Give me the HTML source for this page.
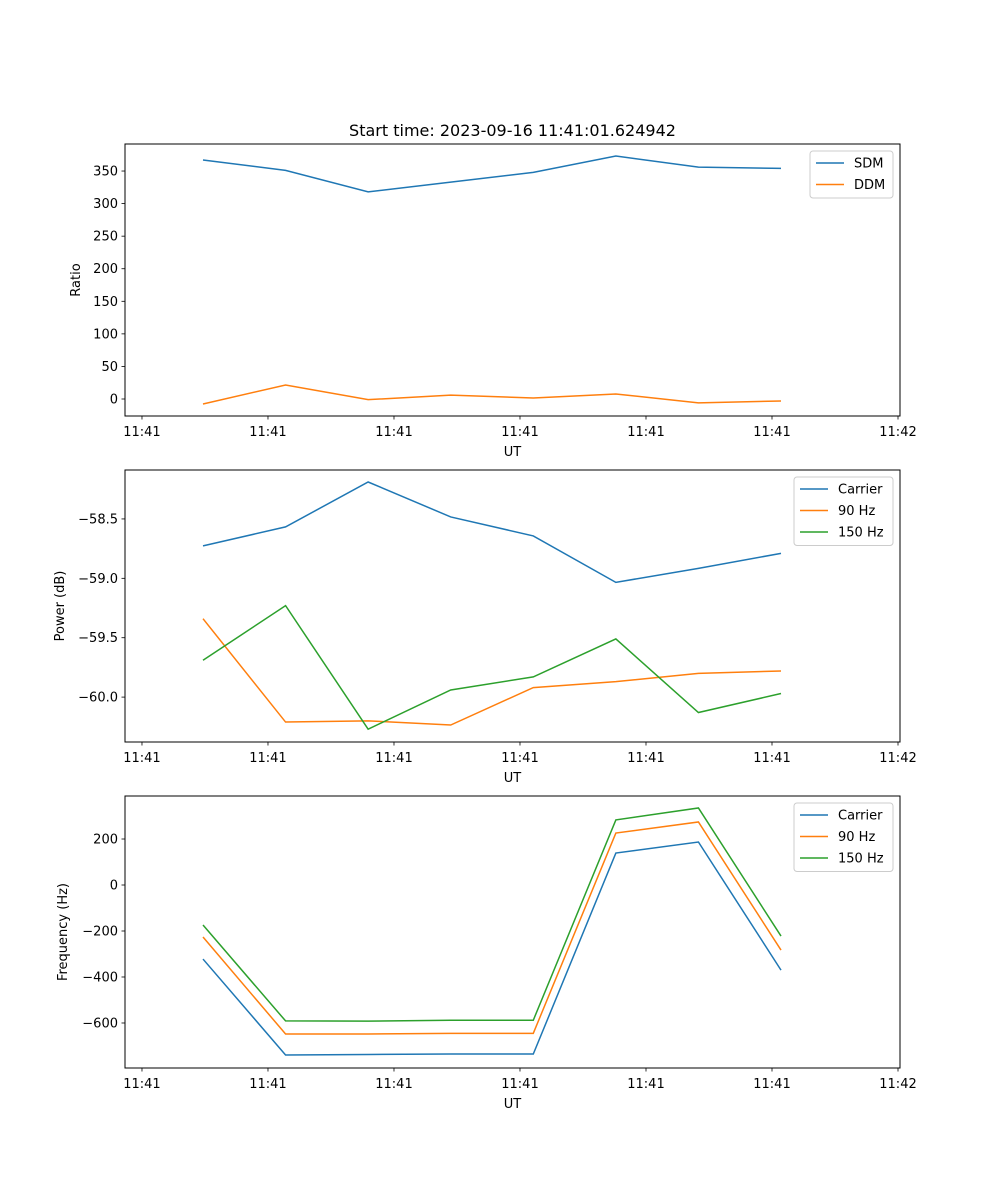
<!DOCTYPE html>
<html><head><meta charset="utf-8"><style>
html,body{margin:0;padding:0;background:#fff;}
svg{display:block;font-family:"DejaVu Sans","Liberation Sans",sans-serif;}
</style></head><body>
<svg id="chart" width="1000" height="1200" viewBox="0 0 1000 1200"></svg>
<script>
const xIndex = [0,1,2,3,4,5,6,7];
const xTickVals = [-0.739,0.787,2.313,3.839,5.365,6.891,8.417];
const xTickLabels = ["11:41","11:41","11:41","11:41","11:41","11:41","11:42"];
const sdm = [367,351,318,333,348,373,356,354];
const ddm = [-7.7,21.5,-1,6,1.5,7.7,-6,-3];
const powCarrier = [-58.727,-58.567,-58.189,-58.483,-58.643,-59.034,-58.916,-58.790];
const pow90 = [-59.34,-60.21,-60.20,-60.235,-59.92,-59.87,-59.80,-59.78];
const pow150 = [-59.69,-59.23,-60.27,-59.94,-59.83,-59.51,-60.13,-59.97];
const freqCarrier = [-322,-739,-737,-735,-735,139,187,-370];
const freq90 = [-226,-648,-648,-645,-645,226,274,-283];
const freq150 = [-174,-591,-592,-588,-588,283,335,-222];
const y1Ticks = [0,50,100,150,200,250,300,350];
const y1Labels = ["0","50","100","150","200","250","300","350"];
const y2Ticks = [-58.5,-59.0,-59.5,-60.0];
const y2Labels = ["\u221258.5","\u221259.0","\u221259.5","\u221260.0"];
const y3Ticks = [200,0,-200,-400,-600];
const y3Labels = ["200","0","\u2212200","\u2212400","\u2212600"];

const NS="http://www.w3.org/2000/svg";
const svg=document.getElementById('chart');
function mk(tag,attrs,parent){const e=document.createElementNS(NS,tag);for(const k in attrs)e.setAttribute(k,attrs[k]);(parent||svg).appendChild(e);return e;}
const L=125,R=900;
const xScale=v=>203+(v-0)*(781-203)/7;
const C=["#1f77b4","#ff7f0e","#2ca02c"];

function panel(name,top,bot,ydom,yt,yl,ylabel,series,names,leg){
  const g=mk('g',{});
  
  
  const ys=v=>bot-(v-ydom[0])*(bot-top)/(ydom[1]-ydom[0]);
  series.forEach((s,i)=>{
    const d=s.map((v,j)=>(j?'L':'M')+xScale(xIndex[j]).toFixed(2)+' '+ys(v).toFixed(2)).join(' ');
    const p=mk('path',{d:d,fill:'none',stroke:C[i],'stroke-width':1.5},g);
    
    
  });
  const fr=mk('rect',{x:L,y:top,width:R-L,height:bot-top,fill:'none',stroke:'#000','stroke-width':1},g);
  
  
  xTickVals.forEach((v,i)=>{
    const x=xScale(v);
    mk('line',{x1:x,x2:x,y1:bot,y2:bot+3.5,stroke:'#000','stroke-width':0.8},g);
    const t=mk('text',{x:x,y:bot+20,'font-size':13,'text-anchor':'middle',fill:'#000'},g);
    t.textContent=xTickLabels[i];
    
    
  });
  yt.forEach((v,i)=>{
    const y=ys(v);
    mk('line',{x1:L-3.5,x2:L,y1:y,y2:y,stroke:'#000','stroke-width':0.8},g);
    const t=mk('text',{x:L-7,y:y+4.5,'font-size':13,'text-anchor':'end',fill:'#000'},g);
    t.textContent=yl[i];
    
    
  });
  const xt=mk('text',{x:(L+R)/2,y:bot+40,'font-size':13,'text-anchor':'middle'},g);
  xt.textContent='UT';
  
  
  const yx=leg.ylx,yy=(top+bot)/2;
  const yT=mk('text',{x:yx,y:yy,'font-size':13,'text-anchor':'middle',transform:`rotate(-90 ${yx} ${yy})`},g);
  yT.textContent=ylabel;
  
  
  const lg=mk('g',{},g);
  
  
  mk('rect',{x:leg.x,y:top+7,width:R-7-leg.x,height:names.length*21.5+4,rx:3,fill:'#fff','fill-opacity':0.8,stroke:'#ccc'},lg);
  names.forEach((n,i)=>{
    const y=top+7+12+i*21.5;
    mk('line',{x1:leg.x+6,x2:leg.x+34,y1:y,y2:y,stroke:C[i],'stroke-width':1.5},lg);
    const t=mk('text',{x:leg.x+44,y:y+4.5,'font-size':13},lg);
    t.textContent=n;
    
    
  });
}
const title=mk('text',{x:512.5,y:136,'font-size':16,'text-anchor':'middle'});
title.textContent='Start time: 2023-09-16 11:41:01.624942';


panel('ratio',144,416,[-26.1,391.5],y1Ticks,y1Labels,'Ratio',[sdm,ddm],['SDM','DDM'],{x:810,ylx:80});
panel('power',470,742,[-60.378,-58.088],y2Ticks,y2Labels,'Power (dB)',[powCarrier,pow90,pow150],['Carrier','90 Hz','150 Hz'],{x:794,ylx:64});
panel('frequency',796,1068,[-795.7,387],y3Ticks,y3Labels,'Frequency (Hz)',[freqCarrier,freq90,freq150],['Carrier','90 Hz','150 Hz'],{x:794,ylx:67});
</script>
</body></html>
